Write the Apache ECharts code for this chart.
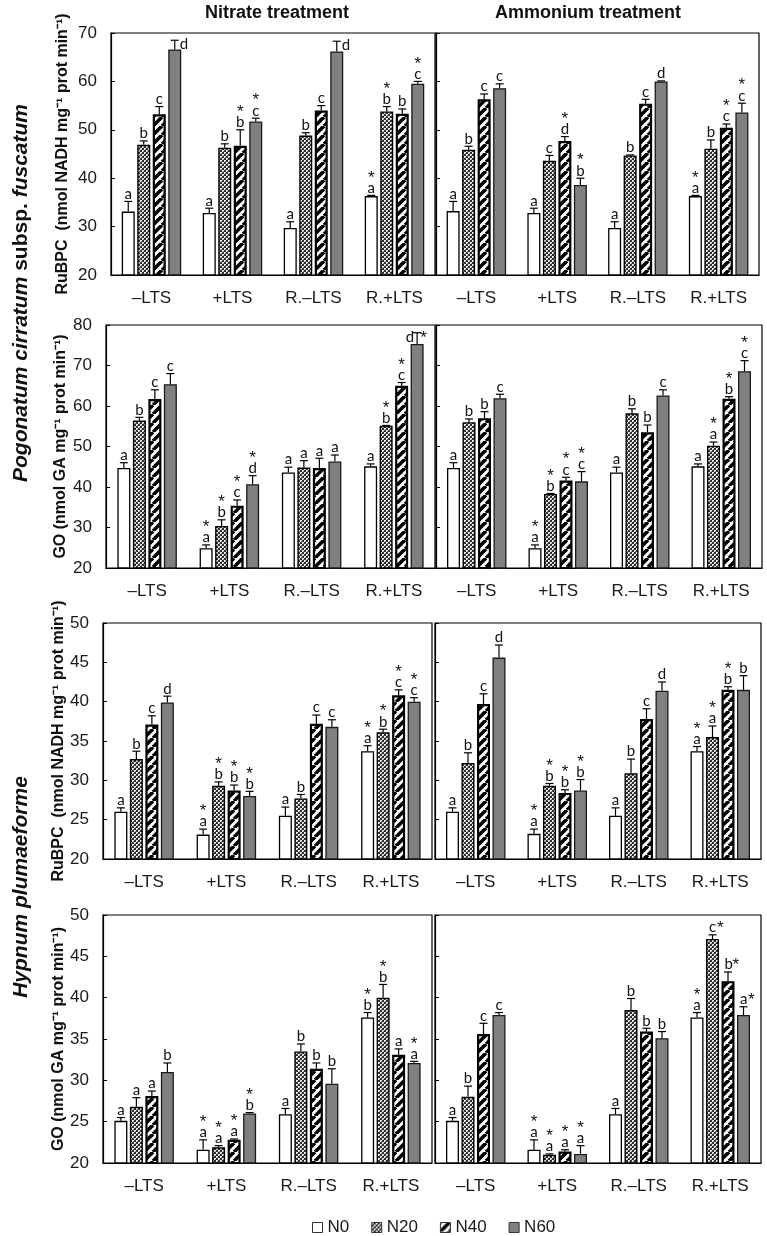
<!DOCTYPE html>
<html>
<head>
<meta charset="utf-8">
<script src="https://cdn.jsdelivr.net/npm/echarts@6/dist/echarts.min.js"></script>
<style>
html,body{margin:0;padding:0;background:#fff;}
#chart{width:767px;height:1236px;}
</style>
</head>
<body>
<div id="chart"></div>
<script>
// ---------------- DATA ----------------
const categories = ['–LTS', '+LTS', 'R.–LTS', 'R.+LTS'];
const seriesNames = ['N0', 'N20', 'N40', 'N60'];

const pcRubpcTicks = [20, 30, 40, 50, 60, 70];
const pcGoTicks = [20, 30, 40, 50, 60, 70, 80];
const hpRubpcTicks = [20, 25, 30, 35, 40, 45, 50];
const hpGoTicks = [20, 25, 30, 35, 40, 45, 50];

const rubpcName = 'RuBPC  (nmol NADH mg⁻¹ prot min⁻¹)';
const goName = 'GO (nmol GA mg⁻¹ prot min⁻¹)';

// Pogonatum cirratum subsp. fuscatum — RuBPC, nitrate (rows: N0, N20, N40, N60; cols: categories)
const pcRubpcNitrate = [
  [33.1, 32.8, 29.7, 36.3],
  [46.9, 46.3, 48.8, 53.8],
  [53.2, 46.7, 54.0, 53.3],
  [66.6, 51.7, 66.2, 59.5]
];
const pcRubpcNitrateErr = [
  [2.1, 1.0, 1.3, 0.15],
  [0.8, 0.8, 0.6, 1.0],
  [1.6, 3.3, 1.0, 1.0],
  [1.9, 0.7, 2.1, 0.5]
];
const pcRubpcNitrateSig = [
  ['a', 'a', 'a', '*\na'],
  ['b', 'b', 'b', '*\nb'],
  ['c', '*\nb', 'c', 'b'],
  ['d', '*\nc', 'd', '*\nc']
];

// Pogonatum — RuBPC, ammonium
const pcRubpcAmmonium = [
  [33.2, 32.8, 29.7, 36.3],
  [45.9, 43.6, 44.7, 46.1],
  [56.3, 47.7, 55.4, 50.4],
  [58.6, 38.6, 60.0, 53.6]
];
const pcRubpcAmmoniumErr = [
  [2.0, 1.0, 1.3, 0.15],
  [0.7, 1.1, 0.1, 1.8],
  [1.1, 0.9, 0.9, 0.8],
  [0.9, 1.4, 0.1, 1.9]
];
const pcRubpcAmmoniumSig = [
  ['a', 'a', 'a', '*\na'],
  ['b', 'c', 'b', 'b'],
  ['c', '*\nd', 'c', '*\nc'],
  ['c', '*\nb', 'd', '*\nc']
];

// Pogonatum — GO, nitrate
const pcGoNitrate = [
  [44.7, 24.9, 43.6, 45.1],
  [56.4, 30.4, 44.8, 55.1],
  [61.7, 35.4, 44.7, 65.0],
  [65.4, 40.7, 46.3, 75.3]
];
const pcGoNitrateErr = [
  [1.3, 0.8, 1.3, 0.6],
  [0.8, 1.5, 1.7, 0.1],
  [2.3, 1.4, 2.4, 0.8],
  [2.6, 2.1, 1.6, 2.8]
];
const pcGoNitrateSig = [
  ['a', '*\na', 'a', 'a'],
  ['b', '*\nb', 'a', '*\nb'],
  ['c', '*\nc', 'a', '*\nc'],
  ['c', '*\nd', 'a', '*\nd']
];

// Pogonatum — GO, ammonium
const pcGoAmmonium = [
  [44.7, 24.9, 43.6, 45.1],
  [56.0, 38.3, 58.2, 50.2],
  [57.0, 41.6, 53.5, 61.8],
  [61.9, 41.4, 62.6, 68.6]
];
const pcGoAmmoniumErr = [
  [1.3, 0.8, 1.3, 0.6],
  [0.8, 0.1, 1.1, 0.9],
  [1.6, 0.8, 1.8, 0.5],
  [1.0, 2.4, 1.4, 2.6]
];
const pcGoAmmoniumSig = [
  ['a', '*\na', 'a', 'a'],
  ['b', '*\nb', 'b', '*\na'],
  ['b', '*\nc', 'b', '*\nb'],
  ['c', '*\nc', 'c', '*\nc']
];

// Hypnum plumaeforme — RuBPC, nitrate
const hpRubpcNitrate = [
  [26.0, 23.1, 25.5, 33.7],
  [32.7, 29.3, 27.7, 36.1],
  [37.1, 28.7, 37.2, 40.8],
  [39.9, 28.0, 36.8, 40.0]
];
const hpRubpcNitrateErr = [
  [0.5, 0.7, 1.1, 0.7],
  [1.0, 0.5, 0.5, 0.4],
  [1.1, 0.7, 1.1, 0.7],
  [0.8, 0.6, 0.9, 0.5]
];
const hpRubpcNitrateSig = [
  ['a', '*\na', 'a', '*\na'],
  ['b', '*\nb', 'b', '*\nb'],
  ['c', '*\nb', 'c', '*\nc'],
  ['d', '*\nb', 'c', '*\nc']
];

// Hypnum — RuBPC, ammonium
const hpRubpcAmmonium = [
  [26.0, 23.2, 25.5, 33.7],
  [32.2, 29.3, 30.9, 35.5],
  [39.7, 28.4, 37.8, 41.5],
  [45.6, 28.7, 41.4, 41.5]
];
const hpRubpcAmmoniumErr = [
  [0.5, 0.6, 1.0, 0.6],
  [1.3, 0.3, 1.8, 1.4],
  [1.3, 0.4, 1.3, 0.4],
  [1.6, 1.4, 1.1, 1.8]
];
const hpRubpcAmmoniumSig = [
  ['a', '*\na', 'a', '*\na'],
  ['b', '*\nb', 'b', '*\na'],
  ['c', '*\nb', 'c', '*\nb'],
  ['d', '*\nb', 'd', 'b']
];

// Hypnum — GO, nitrate
const hpGoNitrate = [
  [25.1, 21.6, 25.9, 37.6],
  [26.8, 21.9, 33.5, 40.0],
  [28.1, 22.8, 31.4, 33.1],
  [31.0, 26.0, 29.6, 32.1]
];
const hpGoNitrateErr = [
  [0.4, 1.2, 0.7, 0.6],
  [1.1, 0.2, 0.9, 1.6],
  [0.6, 0.1, 0.7, 0.7],
  [1.1, 0.1, 1.8, 0.2]
];
const hpGoNitrateSig = [
  ['a', '*\na', 'a', '*\nb'],
  ['a', '*\na', 'b', '*\nb'],
  ['a', '*\na', 'b', 'a'],
  ['b', '*\nb', 'b', '*\na']
];

// Hypnum — GO, ammonium
const hpGoAmmonium = [
  [25.1, 21.6, 25.9, 37.6],
  [28.0, 21.0, 38.5, 47.1],
  [35.6, 21.4, 35.9, 42.0],
  [37.9, 21.1, 35.1, 37.9]
];
const hpGoAmmoniumErr = [
  [0.4, 1.2, 0.7, 0.6],
  [1.3, 0.1, 1.4, 0.5],
  [1.3, 0.2, 0.4, 1.1],
  [0.3, 1.0, 0.8, 1.0]
];
const hpGoAmmoniumSig = [
  ['a', '*\na', 'a', '*\na'],
  ['b', '*\na', 'b', 'c*'],
  ['c', '*\na', 'b', 'b*'],
  ['c', '*\na', 'b', 'a*']
];

// ---------------- LAYOUT / STYLE ----------------
const FONT = '"Liberation Sans", Arial, sans-serif';
const LFONT = 'Lato, "Open Sans", sans-serif';
const BAR_W = 13, BAR_GAP_PX = 2.5, PITCH = BAR_W + BAR_GAP_PX;

const panels = [
  {rect: [111, 33, 324, 242], mean: pcRubpcNitrate, err: pcRubpcNitrateErr, sig: pcRubpcNitrateSig, ticks: pcRubpcTicks, left: true, yName: rubpcName, nameGap: 40},
  {rect: [436, 33, 323, 242], mean: pcRubpcAmmonium, err: pcRubpcAmmoniumErr, sig: pcRubpcAmmoniumSig, ticks: pcRubpcTicks, left: false},
  {rect: [106, 325, 329, 243], mean: pcGoNitrate, err: pcGoNitrateErr, sig: pcGoNitrateSig, ticks: pcGoTicks, left: true, yName: goName, nameGap: 37},
  {rect: [436, 325, 326, 243], mean: pcGoAmmonium, err: pcGoAmmoniumErr, sig: pcGoAmmoniumSig, ticks: pcGoTicks, left: false},
  {rect: [103, 623, 329, 236], mean: hpRubpcNitrate, err: hpRubpcNitrateErr, sig: hpRubpcNitrateSig, ticks: hpRubpcTicks, left: true, yName: rubpcName, nameGap: 35},
  {rect: [435, 623, 326, 236], mean: hpRubpcAmmonium, err: hpRubpcAmmoniumErr, sig: hpRubpcAmmoniumSig, ticks: hpRubpcTicks, left: false},
  {rect: [103, 915, 329, 248], mean: hpGoNitrate, err: hpGoNitrateErr, sig: hpGoNitrateSig, ticks: hpGoTicks, left: true, yName: goName, nameGap: 35},
  {rect: [435, 915, 326, 248], mean: hpGoAmmonium, err: hpGoAmmoniumErr, sig: hpGoAmmoniumSig, ticks: hpGoTicks, left: false}
];

function makeCheck() {
  const c = document.createElement('canvas');
  c.width = 4; c.height = 4;
  const g = c.getContext('2d');
  g.fillStyle = '#2e2e2e'; g.fillRect(0, 0, 4, 4);
  g.fillStyle = '#eeeeee';
  g.fillRect(0, 0, 2, 1); g.fillRect(0, 1, 1, 1);
  g.fillRect(2, 2, 2, 1); g.fillRect(2, 3, 1, 1);
  g.fillStyle = '#8a8a8a';
  g.fillRect(1, 1, 1, 1); g.fillRect(3, 3, 1, 1);
  return c;
}
function makeStripes() {
  const s = 9;
  const c = document.createElement('canvas');
  c.width = s; c.height = s;
  const g = c.getContext('2d');
  g.fillStyle = '#ffffff'; g.fillRect(0, 0, s, s);
  g.strokeStyle = '#000000'; g.lineWidth = 3.6;
  [-s, 0, s].forEach(k => { g.beginPath(); g.moveTo(k, s); g.lineTo(k + s, 0); g.stroke(); });
  return c;
}

const barStyles = [
  {color: '#ffffff', borderColor: '#000', borderWidth: 1.3},
  {color: {image: makeCheck(), repeat: 'repeat'}, borderColor: '#000', borderWidth: 1.4},
  {color: {image: makeStripes(), repeat: 'repeat'}, borderColor: '#000', borderWidth: 2.2},
  {color: '#808080', borderColor: '#1a1a1a', borderWidth: 1.3}
];

const letterStyle = {fill: '#111', fontSize: 15, fontFamily: LFONT};
const starStyle = {fill: '#111', fontSize: 17, fontFamily: FONT};

function txt(base, props) {
  return {type: 'text', style: Object.assign({}, base, props)};
}

function makeRender(panel) {
  return function (params, api) {
    const c = api.value(0), s = api.value(1), m = api.value(2), t = api.value(3);
    const p = api.coord([c, m]);
    const x = p[0] + (s - 1.5) * PITCH;
    const yBar = p[1];
    const yTop = api.coord([c, t])[1];
    const ls = {stroke: '#000', lineWidth: 1.2};
    const children = [];
    if (yBar - yTop > 0.5) children.push({type: 'line', shape: {x1: x, y1: yBar, x2: x, y2: yTop}, style: ls});
    children.push({type: 'line', shape: {x1: x - 4, y1: yTop, x2: x + 4, y2: yTop}, style: ls});

    const label = panel.sig[s][c];
    const starAbove = label.indexOf('*\n') === 0;
    const starBeside = !starAbove && label.indexOf('*') > 0;
    const letter = label.replace(/[*\n]/g, '');
    const need = starAbove ? 26 : 13;
    const top = params.coordSys.y;

    if (yTop - 2 - need < top) {
      // not enough room above: put letter beside the cap
      if (starAbove) {
        children.push(txt(letterStyle, {text: letter, x: x - 3, y: yTop + 4, align: 'right', verticalAlign: 'middle'}));
        children.push(txt(starStyle, {text: '*', x: x + 3, y: yTop + 5.5, align: 'left', verticalAlign: 'middle'}));
      } else {
        children.push(txt(letterStyle, {text: letter, x: x + 5, y: yTop + 4, align: 'left', verticalAlign: 'middle'}));
      }
    } else if (starBeside) {
      children.push(txt(letterStyle, {text: letter, x: x - 3.5, y: yTop - 1, align: 'left', verticalAlign: 'bottom', lineHeight: 13}));
      children.push(txt(starStyle, {text: '*', x: x + 4.5, y: yTop - 6.5, align: 'left', verticalAlign: 'middle'}));
    } else {
      children.push(txt(letterStyle, {text: letter, x: x, y: yTop - 1, align: 'center', verticalAlign: 'bottom', lineHeight: 13}));
      if (starAbove) children.push(txt(starStyle, {text: '*', x: x, y: yTop - 17.5, align: 'center', verticalAlign: 'middle'}));
    }
    return {type: 'group', children: children};
  };
}

const grids = [], xAxes = [], yAxes = [], series = [];
panels.forEach((p, i) => {
  grids.push({left: p.rect[0], top: p.rect[1], width: p.rect[2], height: p.rect[3], show: true, borderColor: '#000', borderWidth: 1.2});
  xAxes.push({
    type: 'category', gridIndex: i, data: categories,
    axisLine: {lineStyle: {color: '#000', width: 1.2}},
    axisTick: {inside: true, length: 4, lineStyle: {color: '#000'}},
    axisLabel: {fontSize: 17, color: '#1a1a1a', margin: 15, fontFamily: FONT}
  });
  yAxes.push({
    type: 'value', gridIndex: i,
    min: p.ticks[0], max: p.ticks[p.ticks.length - 1], interval: p.ticks[1] - p.ticks[0],
    splitLine: {show: false},
    axisLine: {show: true, lineStyle: {color: '#000', width: 1.2}},
    axisTick: {show: true, inside: true, length: 4, lineStyle: {color: '#000'}},
    axisLabel: {show: p.left, fontSize: 17, color: '#1a1a1a', margin: 14, fontFamily: FONT},
    name: p.left ? p.yName : '',
    nameLocation: 'middle', nameRotate: 90, nameGap: p.nameGap || 30,
    nameTextStyle: {fontSize: 16, fontWeight: 'bold', color: '#111', fontFamily: FONT}
  });
  seriesNames.forEach((nm, s) => {
    series.push({
      type: 'bar', name: nm, xAxisIndex: i, yAxisIndex: i, data: p.mean[s],
      barWidth: BAR_W, barGap: (BAR_GAP_PX / BAR_W * 100) + '%',
      itemStyle: barStyles[s], emphasis: {disabled: true}, silent: true
    });
  });
  const pts = [];
  for (let s = 0; s < 4; s++) for (let c = 0; c < 4; c++) pts.push([c, s, p.mean[s][c], p.mean[s][c] + p.err[s][c]]);
  series.push({
    type: 'custom', name: 'err' + i, xAxisIndex: i, yAxisIndex: i, data: pts,
    renderItem: makeRender(p), encode: {x: 0, y: 3}, z: 5, silent: true
  });
});

const option = {
  backgroundColor: '#fff',
  animation: false,
  grid: grids, xAxis: xAxes, yAxis: yAxes, series: series,
  legend: {
    left: 307, top: 1214, itemWidth: 10, itemHeight: 10, itemGap: 22, icon: 'rect',
    selectedMode: false,
    textStyle: {fontSize: 17, color: '#1a1a1a', fontFamily: FONT},
    data: seriesNames.map(n => ({name: n, itemStyle: {borderWidth: 1, borderColor: '#333'}}))
  },
  graphic: [
    {type: 'text', x: 277, y: 13, style: {text: 'Nitrate treatment', fontSize: 18, fontWeight: 'bold', fontFamily: FONT, fill: '#111', align: 'center', verticalAlign: 'middle'}},
    {type: 'text', x: 588, y: 13, style: {text: 'Ammonium treatment', fontSize: 18, fontWeight: 'bold', fontFamily: FONT, fill: '#111', align: 'center', verticalAlign: 'middle'}},
    {type: 'text', x: 21, y: 293, rotation: Math.PI / 2, style: {
      text: '{i|Pogonatum cirratum} {n|subsp.} {i|fuscatum}', fontSize: 21, fontWeight: 'bold', fontFamily: FONT, fill: '#111', align: 'center', verticalAlign: 'middle',
      rich: {i: {fontStyle: 'italic', fontWeight: 'bold', fontSize: 21, fontFamily: FONT, fill: '#111'}, n: {fontWeight: 'bold', fontSize: 21, fontFamily: FONT, fill: '#111'}}}},
    {type: 'text', x: 21, y: 887, rotation: Math.PI / 2, style: {
      text: 'Hypnum plumaeforme', fontSize: 21, fontWeight: 'bold', fontStyle: 'italic', fontFamily: FONT, fill: '#111', align: 'center', verticalAlign: 'middle'}}
  ]
};

const chart = echarts.init(document.getElementById('chart'), null, {renderer: 'canvas'});
chart.setOption(option);
</script>
</body>
</html>
